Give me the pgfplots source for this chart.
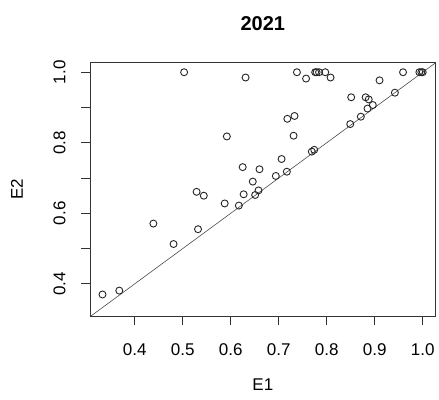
\documentclass[border=0pt]{standalone}
\usepackage{pgfplots}
\pgfplotsset{compat=1.18}
\usepackage{fontspec}
\setmainfont{Liberation Sans}
\begin{document}
\begin{tikzpicture}
\path[use as bounding box] (-90pt,-83pt) rectangle (349pt,316pt);
\begin{axis}[
  scale only axis, width=345.7pt, height=253.3pt,
  at={(0,0)}, anchor=south west,
  xmin=0.307, xmax=1.027, ymin=0.309, ymax=1.027,
  axis line style={black!80, line width=0.8pt},
  xtick={0.4,0.5,0.6,0.7,0.8,0.9,1.0},
  xticklabels={0.4,0.5,0.6,0.7,0.8,0.9,1.0},
  ytick={0.4,0.5,0.6,0.7,0.8,0.9,1.0},
  yticklabels={0.4,,0.6,,0.8,,1.0},
  tick align=outside, major tick length=9pt,
  tick style={black!80, line width=0.8pt},
  xtick pos=bottom, ytick pos=left,
  /pgf/number format/assume math mode=true,
  ticklabel style={font=\fontsize{17}{20}\selectfont},
  xticklabel style={anchor=north, yshift=-15pt},
  yticklabel style={rotate=90, anchor=south, yshift=12pt},
  clip=true,
]
\addplot[black!70, line width=0.6pt] coordinates {(0,0) (1.1,1.1)};
\addplot[only marks, mark=o, mark size=3.5pt, mark options={black!85, line width=0.9pt}] coordinates {
(0.333,0.370) (0.368,0.381) (0.439,0.571) (0.481,0.513) (0.503,1.000)
(0.529,0.661) (0.544,0.650) (0.532,0.555) (0.5875,0.628) (0.592,0.818)
(0.617,0.622) (0.625,0.731) (0.631,0.985) (0.627,0.654) (0.646,0.690)
(0.651,0.652) (0.658,0.665) (0.660,0.725) (0.694,0.706) (0.706,0.754)
(0.717,0.718) (0.718,0.868) (0.733,0.876) (0.731,0.820) (0.738,1.000)
(0.757,0.982) (0.769,0.775) (0.774,0.780) (0.776,1.000) (0.779,1.000)
(0.784,1.000) (0.797,1.000) (0.808,0.985) (0.849,0.853) (0.851,0.929)
(0.871,0.874) (0.881,0.929) (0.8875,0.923) (0.885,0.897) (0.896,0.907)
(0.910,0.977) (0.942,0.942) (0.959,1.000) (0.993,1.000) (0.997,1.000)
(1.000,1.000)
};
\end{axis}
\node[font=\fontsize{20}{24}\selectfont\bfseries] at (172.85pt,292pt) {2021};
\node[font=\fontsize{17}{20}\selectfont] at (172.85pt,-69pt) {E1};
\node[font=\fontsize{17}{20}\selectfont, rotate=90] at (-73pt,126.65pt) {E2};
\end{tikzpicture}
\end{document}
